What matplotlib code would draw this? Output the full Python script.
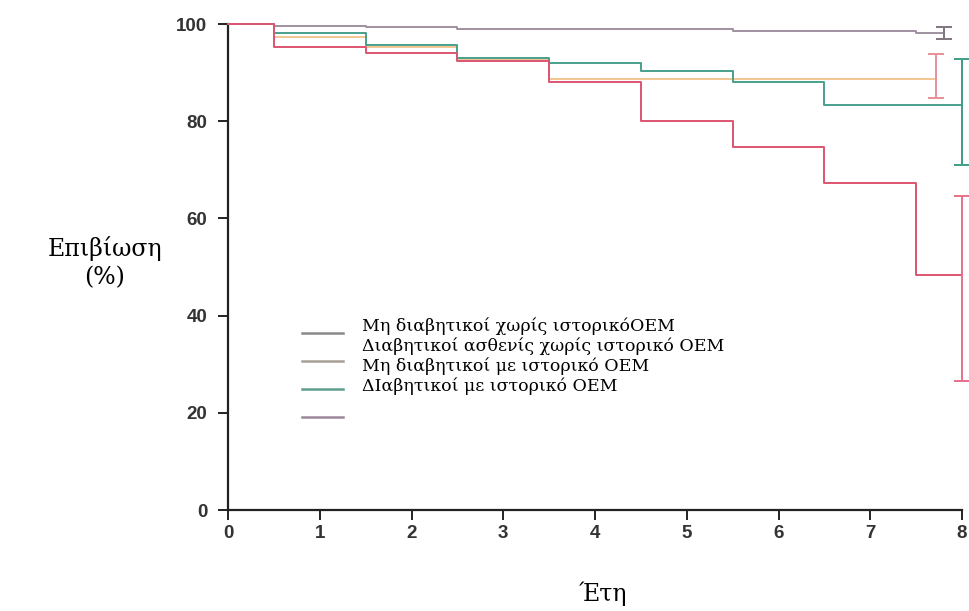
import numpy as np
import matplotlib
matplotlib.use("Agg")
import matplotlib.pyplot as plt

# survival (%) per year, step curves (value holds until the next time)
years = [0, 0.5, 1.5, 2.5, 3.5, 4.5, 5.5, 6.5, 7.5]

nondiab_no_mi = [100, 99.5, 99.3, 99.0, 99.0, 99.0, 98.6, 98.6, 98.2]
diab_no_mi = [100, 97.3, 95.2, 92.7, 88.6, 88.6, 88.6, 88.6, 88.6]
nondiab_mi = [100, 98.2, 95.7, 93.1, 92.0, 90.3, 88.1, 83.4, 83.4]
diab_mi = [100, 95.3, 94.0, 92.4, 88.0, 80.0, 74.6, 67.2, 48.3]

# last follow-up time of each curve and its confidence interval
end_time = [7.8, 7.72, 8.0, 8.0]
ci_low = [96.9, 84.7, 71.0, 26.5]
ci_high = [99.3, 93.8, 92.8, 64.7]

labels = ["Μη διαβητικοί χωρίς ιστορικόOEM",
          "Διαβητικοί ασθενίς χωρίς ιστορικό OEM",
          "Μη διαβητικοί με ιστορικό OEM",
          "ΔΙαβητικοί με ιστορικό OEM"]

line_colors = ['#a090a0', '#f2c690', '#48a08c', '#dc5470']
bar_colors = ['#7f7480', '#e8909a', '#3f9c86', '#e8708a']
legend_colors = ['#8a8a8a', '#a8a098', '#5f9e8f', '#9a8898']

fig = plt.figure(figsize=(9.7, 6.11), dpi=100)
ax = fig.add_axes([0.2351, 0.1653, 0.9918 - 0.2351, 0.9607 - 0.1653])

series = [nondiab_no_mi, diab_no_mi, nondiab_mi, diab_mi]
for i, s in enumerate(series):
    xs = years + [end_time[i]]
    ys = s + [s[-1]]
    ax.step(xs, ys, where='post', color=line_colors[i], lw=1.4, clip_on=False, zorder=3)
    mid = s[-1]
    ax.errorbar([end_time[i]], [mid], yerr=[[mid - ci_low[i]], [ci_high[i] - mid]],
                fmt='none', ecolor=bar_colors[i], elinewidth=1.4, capsize=6,
                capthick=1.4, clip_on=False, zorder=4)

ax.set_xlim(0, 8)
ax.set_ylim(0, 100)
ax.set_xticks(range(0, 9))
ax.set_yticks(range(0, 101, 20))

for side in ['top', 'right']:
    ax.spines[side].set_visible(False)
for side in ['left', 'bottom']:
    ax.spines[side].set_color('#222222')
    ax.spines[side].set_linewidth(1.6)
ax.tick_params(direction='out', length=7, width=1.4, color='#222222',
               labelsize=13.5, labelcolor='#333333', pad=4)
ax.tick_params(axis='y', pad=8)
for lab in ax.get_xticklabels() + ax.get_yticklabels():
    lab.set_family('Liberation Sans')
    lab.set_weight('bold')

# hand drawn legend: short lines with the labels beside them
line_y = [333, 361, 389, 417]
text_y = [326, 346, 366, 386]
for i in range(4):
    fig.add_artist(plt.Line2D([302 / 970, 343 / 970], [1 - line_y[i] / 611] * 2,
                              color=legend_colors[i], lw=1.8, transform=fig.transFigure))
    fig.text(362 / 970, 1 - text_y[i] / 611, labels[i], family='DejaVu Serif',
             fontsize=12.5, va='center', ha='left', color='#000000')

fig.text(105 / 970, 1 - 263 / 611, "Επιβίωση\n(%)", family='DejaVu Serif',
         fontsize=17, ha='center', va='center', linespacing=1.3)
fig.text(603 / 970, 1 - 594 / 611, "Έτη", family='DejaVu Serif',
         fontsize=17, ha='center', va='center')

fig.savefig("out.png", dpi=100)
